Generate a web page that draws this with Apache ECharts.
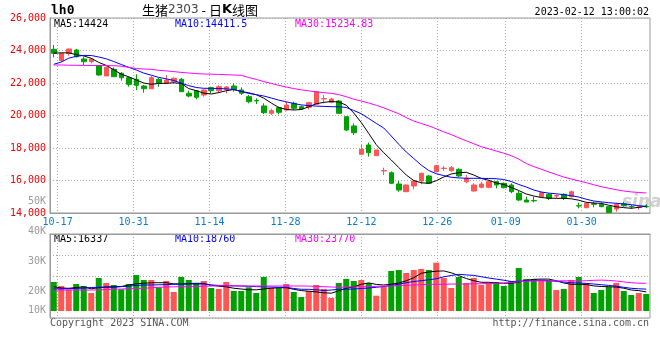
<!DOCTYPE html>
<html><head><meta charset="utf-8">
<script src="https://cdn.jsdelivr.net/npm/echarts@6/dist/echarts.min.js"></script>
<style>html,body{margin:0;padding:0;background:#fff}#c{width:660px;height:360px}</style>
</head><body><div id="c"></div>
<script>
const dates = ['10-14','10-17','10-18','10-19','10-20','10-21','10-24','10-25','10-26','10-27','10-28','10-31',
'11-01','11-02','11-03','11-04','11-07','11-08','11-09','11-10','11-11','11-14','11-15','11-16','11-17','11-18',
'11-21','11-22','11-23','11-24','11-25','11-28','11-29','11-30','12-01','12-02','12-05','12-06','12-07','12-08','12-09',
'12-12','12-13','12-14','12-15','12-16','12-19','12-20','12-21','12-22','12-23','12-26','12-27','12-28','12-29','12-30',
'01-03','01-04','01-05','01-06','01-09','01-10','01-11','01-12','01-13','01-16','01-17','01-18','01-19','01-20',
'01-30','01-31','02-01','02-02','02-03','02-06','02-07','02-08','02-09','02-10'];
const tickLabels = ['10-17','10-31','11-14','11-28','12-12','12-26','01-09','01-30'];

const openV = [24074,23385,23828,24031,23477,23311,23046,22431,22843,22597,
 22326,22228,21815,21649,22228,21982,22080,22228,21366,21526,
 21262,21711,21526,21612,21815,21569,21157,20920,20585,20135,
 20480,20338,20751,20542,20505,20689,21020,20812,20892,19926,
 19354,17612,18185,17526,16590,16480,15785,15311,15662,15969,
 16277,16542,16740,16603,16689,15926,15354,15581,15581,15926,
 15828,15723,15212,14800,14770,15003,15150,15050,15150,15003,
 14450,14326,14570,14535,14390,14246,14570,14400,14340,14400];
const closeV = [23828,23815,24092,23618,23311,23477,22492,22966,22388,22326,
 21920,21858,21649,22326,21982,22185,22289,21465,21200,21120,
 21569,21526,21772,21754,21612,21366,20849,20900,20172,20295,
 20197,20646,20443,20400,20788,21465,21040,21015,20135,19108,
 18941,17920,17711,17877,16610,15828,15415,15723,15969,16443,
 15828,16911,16755,16788,16277,16135,15723,15785,15926,15723,
 15557,15311,14800,14677,14750,15249,14904,15065,14904,15311,
 14430,14597,14540,14390,14030,14535,14450,14380,14360,14380];
const lowV = [23581,23292,23680,23570,23108,23212,22449,22431,22388,22141,
 21772,21569,21403,21631,21772,21938,21982,21446,21120,20997,
 21157,21366,21403,21366,21465,21262,20751,20708,20092,20031,
 20074,20295,20338,20338,20382,20646,20751,20751,20092,19046,
 18800,17600,17465,17510,16338,15785,15311,15290,15458,15766,
 15828,16505,16603,16542,16197,15828,15311,15520,15520,15520,
 15520,15212,14738,14658,14658,14941,14800,14904,14800,14941,
 14289,14290,14350,14350,14000,14080,14390,14270,14200,14290];
const highV = [24338,23846,24110,24092,23618,23538,23077,23015,22966,22677,
 22400,22535,21877,22431,22308,22492,22338,22308,21526,21569,
 21612,21772,21858,21815,21982,21735,21262,21058,20751,20418,
 20542,20849,20849,20620,20849,21500,21262,21095,20954,19969,
 19520,18185,18326,17890,16788,16560,15969,15760,16031,16480,
 16338,16954,16892,16892,16750,16338,15828,15926,16000,15969,
 15870,15828,15354,15003,15003,15311,15212,15150,15212,15372,
 14634,14640,14695,14660,14420,14634,14695,14500,14480,14540];

const ma5 = [23834,23858,23852,23748,23668,23520,23268,23083,22812,22541,
 22381,22185,22000,21920,21975,21981,22012,21975,21655,21526,
 21378,21323,21409,21526,21600,21477,21397,21280,21065,20769,
 20492,20375,20338,20369,20535,20726,20806,20861,20831,20634,
 20154,19569,18892,18203,17711,17261,16800,16338,16000,15858,
 15827,15987,16215,16400,16486,16505,16338,16129,16012,15846,
 15754,15569,15384,15169,15046,14954,14910,14904,14904,14874,
 14787,14658,14615,14591,14480,14381,14330,14290,14350,14424];
const ma10 = [23151,23292,23526,23643,23698,23692,23600,23489,23323,23138,
 22966,22800,22609,22480,22345,22258,22154,21988,21840,21723,
 21674,21674,21661,21637,21600,21477,21360,21280,21200,21077,
 20948,20843,20738,20652,20609,20578,20560,20541,20541,20492,
 20308,20111,19815,19514,19231,18738,18228,17754,17354,16947,
 16615,16418,16301,16197,16160,16135,16135,16135,16123,16110,
 16061,15938,15754,15600,15415,15292,15224,15181,15126,15064,
 14984,14849,14738,14683,14634,14597,14560,14510,14449,14411.5];
const ma30 = [23108,23108,23095,23089,23083,23077,23077,23071,23065,23034,
 22966,22892,22861,22843,22781,22745,22701,22652,22615,22578,
 22554,22542,22529,22511,22492,22474,22338,22221,22086,21975,
 21852,21754,21655,21581,21514,21458,21409,21366,21286,21157,
 21003,20892,20769,20628,20474,20289,20111,19871,19661,19508,
 19366,19181,18997,18824,18628,18443,18264,18080,17951,17815,
 17680,17526,17323,17046,16855,16695,16529,16369,16215,16092,
 15981,15864,15741,15618,15526,15434,15354,15298,15261,15234.83];

const volume = [24857,21428,18600,23142,21428,15428,28285,24000,22285,18600,
 23142,30857,26571,26571,20314,25714,16285,29142,26571,23742,
 25714,19714,18857,24857,17142,17142,20314,15428,29142,19714,
 19714,23142,16285,12000,17142,22285,18857,11142,24000,27428,
 25714,26571,24000,13114,20571,34285,35142,32571,35142,36000,
 35142,41400,28285,19714,29142,24000,28285,22285,24000,24857,
 21428,25714,36857,27428,27428,26571,25714,18000,18857,26571,
 29142,24000,15428,18000,20571,24000,17142,13714,15428,14571];
const volMa5 = [20826,19711,19454,20140,20654,19025,20054,20654,20826,20997,
 22282,23310,23825,24167,24253,24253,23310,23139,23568,23739,
 23653,22111,21254,20739,19540,18854,18254,18168,18854,19540,
 19968,19968,18597,17483,16969,16369,15597,15255,17311,19454,
 20739,22882,24082,22796,22282,22968,23996,25881,28538,32309,
 33423,34109,34366,32737,30338,27853,25967,24596,24596,23996,
 23739,23825,24596,26224,27167,27338,27338,25967,23996,22882,
 22882,22711,21511,20997,20826,20482,19540,17997,17483,16337];
const volMa10 = [18854,19025,19197,19368,19625,20140,20311,20311,20311,20911,
 21254,21939,22282,22282,22453,22625,22882,22968,23139,23139,
 23139,22282,21939,21682,21511,21425,21168,20911,20739,20482,
 20311,20311,19283,18597,18597,18168,17569,17997,18597,18597,
 18854,19283,19711,20311,20997,21854,22968,24253,25282,25967,
 26824,27595,29309,30424,31452,30938,30509,29395,28281,27338,
 26396,25282,25453,25881,26139,26481,26053,25453,24853,24253,
 23996,23653,23139,22539,21939,21254,20311,19454,19025,18760];
const volMa30 = [17997,17997,17997,17997,17997,17997,17997,18511,18683,18854,
 19025,19283,19540,19882,20311,20568,20739,20825,20825,20997,
 21254,21425,21596,21682,21596,21511,21425,21425,21425,21425,
 21425,21425,21425,21425,21339,21082,20825,20568,20397,20568,
 20654,20739,20911,21168,21339,21511,21768,22025,22282,22539,
 22796,22882,22968,23053,23139,23139,23310,23396,23568,23739,
 23996,24425,25024,25539,25881,25796,25710,25796,25881,25881,
 25710,25967,26310,26481,26224,25710,24939,24253,23825,23770];

const volLabelTicks = [10000, 20000, 30000, 40000, 50000];

const UP = '#ff5555', DOWN = '#00a000';
const MONO = '"DejaVu Sans Mono", "Liberation Mono", monospace';
const GRIDC = '#aaaaaa', BORDER = '#999999';
const last = a => a[a.length - 1];
const isTick = (i, v) => tickLabels.indexOf(v) >= 0;

const candles = dates.map((d, i) => [openV[i], closeV[i], lowV[i], highV[i]]);
const dotted = { color: GRIDC, width: 1, type: [1, 2] };

const chart = echarts.init(document.getElementById('c'), null, { renderer: 'canvas' });
const txt = (text, x, y, fill, font, align) => ({
  type: 'text', silent: true,
  style: { text, x, y, fill, font: font || ('10px ' + MONO),
    align: align || 'left', textAlign: align || 'left', verticalAlign: 'middle', textVerticalAlign: 'middle' }
});
const maLine = (name, data, color, xi, yi) => ({
  name, type: 'line', data, xAxisIndex: xi, yAxisIndex: yi, symbol: 'none', z: 5,
  lineStyle: { color, width: 1 }, itemStyle: { color }, silent: true
});

chart.setOption({
  animation: false,
  backgroundColor: '#ffffff',
  grid: [
    { left: 50, top: 18, width: 600, height: 195, show: true, borderColor: BORDER, borderWidth: 1, outerBoundsMode: 'none' },
    { left: 50, top: 234, width: 600, height: 84, show: true, borderColor: BORDER, borderWidth: 1, outerBoundsMode: 'none' },
    { left: 50, top: 201, width: 600, height: 120, show: false, outerBoundsMode: 'none' }
  ],
  xAxis: [
    { type: 'category', gridIndex: 0, data: dates, boundaryGap: true, show: false },
    { type: 'category', gridIndex: 1, data: dates, boundaryGap: true, show: false },
    { type: 'category', gridIndex: 0, data: dates, boundaryGap: false, position: 'bottom',
      axisLine: { show: true, lineStyle: { color: BORDER, width: 1 } }, axisTick: { show: false },
      axisLabel: { interval: isTick, color: '#0a7ccc', fontSize: 10, fontFamily: MONO, margin: 4, hideOverlap: false },
      splitLine: { show: true, interval: isTick, lineStyle: dotted } },
    { type: 'category', gridIndex: 1, data: dates, boundaryGap: false,
      axisLine: { show: true, lineStyle: { color: BORDER, width: 1 } }, axisTick: { show: false },
      axisLabel: { show: false },
      splitLine: { show: true, interval: isTick, lineStyle: dotted } },
    { type: 'category', gridIndex: 2, data: dates, show: false }
  ],
  yAxis: [
    { type: 'value', gridIndex: 0, min: 14000, max: 26000, interval: 2000, scale: false,
      axisLine: { show: true, lineStyle: { color: BORDER } }, axisTick: { show: false },
      axisLabel: { color: '#ee0000', fontSize: 10, fontFamily: MONO, margin: 4 },
      splitLine: { show: true, lineStyle: dotted } },
    { type: 'value', gridIndex: 1, min: -6000, max: 66000, interval: 18000,
      axisLine: { show: true, lineStyle: { color: BORDER } }, axisTick: { show: false },
      axisLabel: { show: false }, splitLine: { show: true, lineStyle: dotted } },
    { type: 'value', gridIndex: 2, min: volLabelTicks[0], max: last(volLabelTicks), interval: 10000,
      axisLine: { show: false }, axisTick: { show: false }, splitLine: { show: false },
      axisLabel: { color: '#9a9a9a', fontSize: 10, fontFamily: MONO, margin: 4,
        formatter: v => v === volLabelTicks[0] ? '{low|' + (v / 1000) + 'K}' : (v / 1000) + 'K',
        rich: { low: { color: '#9a9a9a', fontSize: 10, fontFamily: MONO, padding: [0, 0, 22, 0] } } } }
  ],
  series: [
    { name: 'K', type: 'candlestick', xAxisIndex: 0, yAxisIndex: 0, data: candles, barWidth: 5, silent: true,
      itemStyle: { color: UP, color0: DOWN, borderColor: UP, borderColor0: DOWN, borderWidth: 1 } },
    maLine('MA5', ma5, '#000000', 0, 0),
    maLine('MA10', ma10, '#0000ff', 0, 0),
    maLine('MA30', ma30, '#ff00ff', 0, 0),
    { name: 'VOL', type: 'bar', xAxisIndex: 1, yAxisIndex: 1, data: volume, barWidth: 6, silent: true,
      itemStyle: { color: p => closeV[p.dataIndex] >= openV[p.dataIndex] ? UP : DOWN } },
    maLine('VMA5', volMa5, '#000000', 1, 1),
    maLine('VMA10', volMa10, '#0000ff', 1, 1),
    maLine('VMA30', volMa30, '#ff00ff', 1, 1)
  ],
  graphic: [
    txt('lh0', 51, 11, '#000', 'bold 13px ' + MONO),
    { type: 'text', silent: true, style: {
      text: '{a|生猪}{b|2303}{a| - 日}{k|K}{a|线图}', x: 200, y: 10,
      align: 'center', textAlign: 'center', verticalAlign: 'middle', textVerticalAlign: 'middle',
      rich: {
        a: { fontSize: 13, fontFamily: '"Noto Sans CJK SC"', fill: '#000', color: '#000' },
        b: { fontSize: 12, fontFamily: '"DejaVu Sans"', fill: '#444', color: '#444' },
        k: { fontSize: 13, fontWeight: 'bold', fontFamily: '"DejaVu Sans"', fill: '#000', color: '#000' }
      } } },
    txt('2023-02-12 13:00:02', 649, 12, '#000', null, 'right'),
    txt('MA5:' + last(ma5), 54, 24, '#000000'),
    txt('MA10:' + last(ma10), 175, 24, '#0000ff'),
    txt('MA30:' + last(ma30), 295, 24, '#ff00ff'),
    txt('MA5:' + last(volMa5), 54, 239, '#000000'),
    txt('MA10:' + last(volMa10), 175, 239, '#0000ff'),
    txt('MA30:' + last(volMa30), 295, 239, '#ff00ff'),
    txt('sina', 622, 203, 'rgba(170,170,170,0.55)', 'italic bold 17px "DejaVu Sans"'),
    txt('Copyright 2023 SINA.COM', 50, 323, '#555555'),
    txt('http://finance.sina.com.cn', 649, 323, '#555555', null, 'right')
  ]
});
</script></body></html>
